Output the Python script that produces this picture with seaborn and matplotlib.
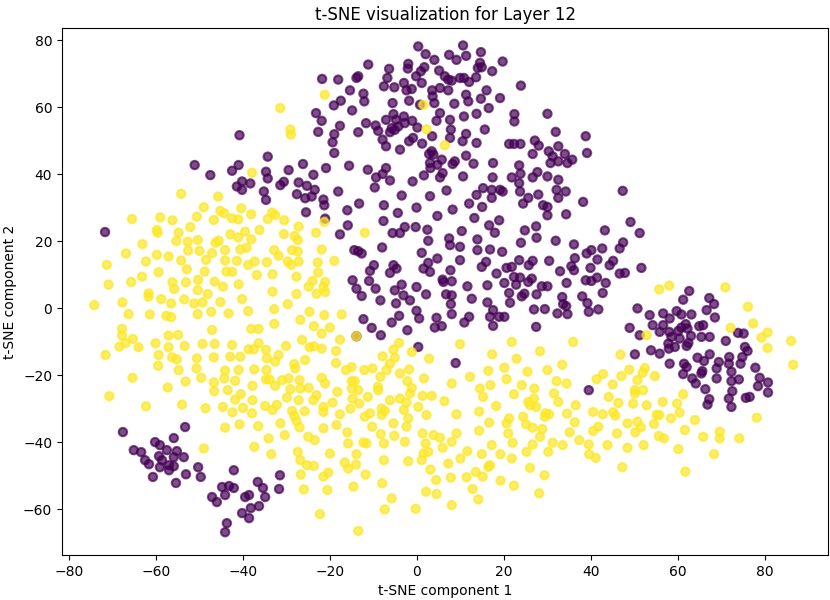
import matplotlib
matplotlib.use("Agg")
import matplotlib.pyplot as plt
import seaborn as sns
import pandas as pd

title = "t-SNE visualization for Layer 12"
xlabel = "t-SNE component 1"
ylabel = "t-SNE component 2"
xticks = [-80, -60, -40, -20, 0, 20, 40, 60, 80]
yticks = [-60, -40, -20, 0, 20, 40, 60, 80]
class_colors = {0: "#440154", 1: "#fde725"}

# ---- class 0 (purple) ----
purple_lower_left = [(-67.6,-37.0),(-53.3,-35.5),(-55.9,-38.8),(-60.2,-40.0),(-65.1,-42.4),(-63.4,-43.0),(-59.1,-40.9),(-57.5,-42.4),(-55.2,-42.7),(-53.6,-44.5),(-59.3,-44.2),(-62.5,-45.4),(-61.6,-46.6),(-58.6,-45.4),(-55.9,-44.5),(-59.1,-47.5),(-57.0,-46.9),(-55.9,-47.2),(-57.0,-48.4),(-60.7,-50.4),(-55.4,-52.2),(-53.1,-49.6),(-50.3,-47.5),(-49.7,-50.4)]
purple_bottom = [(-42.1,-48.4),(-31.5,-49.9),(-31.7,-54.0),(-36.6,-51.9),(-35.4,-53.7),(-44.8,-53.4),(-43.2,-53.1),(-42.1,-53.7),(-44.1,-55.8),(-47.1,-56.4),(-46.0,-57.9),(-39.5,-56.4),(-38.6,-55.8),(-34.9,-56.4),(-36.3,-59.1),(-38.2,-59.7),(-40.2,-61.2),(-38.6,-62.7),(-43.7,-64.2),(-44.1,-66.9)]
purple_upper_left = [(-71.7,22.7),(-51.1,42.7),(-47.5,39.7),(-42.5,41.0),(-41.0,42.7),(-41.4,36.3),(-40.2,37.8),(-40.2,35.3),(-38.3,37.2),(-35.2,34.8),(-34.7,32.3),(-34.3,45.2),(-34.7,40.7),(-34.3,38.7),(-29.5,41.2),(-26.2,43.0),(-30.6,37.7),(-31.4,36.7),(-27.2,37.5),(-25.3,36.5),(-27.6,34.0),(-25.7,32.8),(-25.5,28.6),(-40.8,51.6)]
purple_top = [(0.3,78.1),(10.6,78.4),(2.0,75.8),(7.4,75.6),(9.1,74.1),(11.3,75.3),(14.7,76.4),(4.0,74.1),(-11.2,72.7),(-2.0,72.9),(-2.1,71.5),(1.7,71.9),(0.9,70.7),(-6.4,71.4),(5.1,70.9),(14.5,73.2),(14.9,71.9),(14.0,71.7),(17.3,70.7),(19.7,73.6),(-21.8,68.4),(-18.1,68.2),(-13.9,68.7),(-13.5,69.2),(-6.8,68.7),(-0.2,69.2),(1.1,67.2),(6.4,69.2),(7.2,68.2),(8.0,67.9),(9.9,68.7),(10.8,68.7),(12.0,67.5),(13.6,68.9),(23.9,66.4),(-15.4,65.0),(-12.3,64.0),(-12.1,61.7),(-17.5,61.9),(-19.1,60.5),(-7.6,66.2),(-5.2,65.9),(-3.0,67.2),(-2.4,65.0),(-1.2,65.4),(3.5,65.0),(5.3,65.7),(7.2,65.0),(11.3,63.7),(11.8,61.7),(14.7,62.5),(16.0,65.0),(19.1,62.7),(-14.9,59.0),(-5.6,61.2),(-1.8,61.9),(0.7,60.7),(3.6,63.2),(4.0,61.2),(8.6,61.0),(16.5,59.7),(22.4,57.9),(22.4,55.7),(30.0,58.0),(-23.2,58.2),(-21.9,55.9),(-22.7,52.6),(-17.7,54.4),(-19.0,51.9),(-19.4,49.5),(-19.0,46.3),(-13.5,52.5),(-11.7,55.2),(-9.5,54.5),(-8.9,52.9),(-7.1,56.2),(-5.4,57.9),(-4.8,56.2),(-5.8,53.7),(-5.1,53.2),(-6.2,52.5),(-4.3,54.2),(-3.0,57.2),(-2.8,55.2),(-1.1,55.9),(0.1,53.9),(-7.9,50.3),(-7.1,48.3),(-3.9,47.3),(-1.8,49.8),(-0.9,50.8),(1.2,49.1),(3.5,51.3),(4.5,55.9),(5.3,58.2),(7.6,56.2),(7.8,53.3),(7.6,50.8),(10.8,57.2),(11.3,52.0),(13.7,58.0),(15.6,53.3),(10.5,49.8),(13.7,49.3),(3.4,46.8),(3.8,45.8),(2.8,46.0),(5.7,44.3),(11.3,45.5),(13.0,43.1),(17.5,43.3),(21.2,49.0),(22.3,49.0),(23.8,49.0),(27.1,50.0),(28.0,48.5),(26.6,46.0),(30.3,46.8),(31.9,52.6),(32.5,48.3),(31.2,45.3),(34.0,46.0),(32.5,43.8),(30.7,43.3),(34.6,43.3),(-15.6,42.5),(-20.9,41.8),(-11.3,41.3),(-7.1,41.8),(-7.9,40.0),(-9.4,39.0),(-6.2,38.1),(-9.7,36.0),(-1.0,37.8),(1.6,39.6),(3.0,43.3),(3.1,41.8),(4.7,42.8),(5.9,40.3),(5.3,39.0),(8.2,43.0),(8.7,43.8),(10.6,39.3),(17.4,39.0),(21.8,39.0),(23.5,42.6),(23.8,40.1),(23.5,37.3),(23.7,34.8),(26.6,39.0),(27.7,40.6),(30.0,39.3),(32.5,38.3),(32.1,35.3),(34.2,34.8),(19.1,35.3),(19.7,34.8),(17.2,35.3),(15.2,35.8),(13.7,33.8),(6.8,35.1),(-23.8,39.8),(-23.5,35.3),(-24.2,33.3),(-18.1,34.8),(-21.5,32.4),(-3.5,33.6),(3.0,33.4),(17.2,32.9),(25.6,32.9),(27.9,33.9),(32.5,32.9),(38.8,51.3),(39.1,46.3),(35.7,44.3),(47.3,35.0)]
purple_middle = [(-21.3,30.7),(-21.1,26.7),(-13.3,31.2),(-7.6,30.7),(-0.1,30.0),(8.2,29.4),(12.0,31.2),(15.0,30.2),(24.4,31.2),(29.0,30.7),(30.0,30.2),(30.0,27.7),(34.3,28.0),(-16.0,29.2),(-4.4,28.4),(-7.7,26.0),(4.7,27.5),(13.2,26.9),(18.9,26.2),(-15.9,24.7),(-17.7,22.0),(-5.6,22.4),(-3.9,22.4),(-2.8,24.2),(-0.3,24.2),(2.4,23.4),(2.6,20.1),(10.3,23.0),(16.6,24.7),(17.9,22.5),(24.8,23.2),(27.4,24.4),(27.5,21.0),(23.9,19.5),(31.9,20.1),(7.4,20.8),(7.6,18.8),(9.9,18.3),(13.9,20.5),(13.9,17.3),(16.8,17.5),(19.6,16.8),(-14.4,17.3),(-13.5,17.0),(-12.7,16.3),(-8.0,18.1),(1.1,16.5),(2.6,13.5),(4.7,14.8),(9.9,14.3),(-9.9,12.8),(-10.8,11.1),(-5.4,12.8),(-4.7,11.8),(-6.2,10.5),(1.5,11.8),(3.0,10.8),(7.7,11.3),(14.9,12.3),(15.9,13.8),(18.3,10.3),(20.6,12.0),(21.8,12.3),(23.5,14.3),(26.6,14.1),(25.7,12.8),(30.4,14.1),(32.9,11.0),(22.3,9.3),(23.7,9.1),(26.4,8.8),(25.6,7.8),(28.7,6.5),(30.0,6.5),(34.4,7.5),(-14.8,8.3),(-11.0,8.1),(-13.9,5.8),(-9.5,5.8),(-12.7,3.6),(-3.5,7.0),(-5.1,5.3),(-3.1,3.8),(-1.6,2.3),(-0.1,6.3),(2.1,4.1),(5.9,8.5),(6.1,7.8),(8.0,8.0),(6.7,4.1),(8.0,3.8),(11.6,6.5),(16.2,6.8),(20.1,7.5),(22.8,7.0),(21.2,4.5),(24.1,3.5),(24.7,4.3),(27.5,4.1),(33.4,3.3),(-8.4,2.3),(-4.8,1.4),(7.8,1.2),(12.6,2.8),(16.2,1.7),(21.4,1.6),(33.6,1.2),(34.3,0.6),(-0.1,-0.8),(8.0,-1.8),(17.5,-0.6),(26.9,-0.4),(29.4,-0.3),(32.3,-1.6),(-12.3,-3.3),(-4.1,-2.3),(-5.8,-4.3),(0.5,-3.1),(4.5,-2.9),(4.1,-5.8),(5.7,-5.4),(12.0,-2.6),(10.9,-4.3),(16.8,-2.6),(18.9,-2.6),(20.1,-2.6),(17.5,-5.3),(27.4,-5.6),(-10.4,-5.9),(-8.3,-8.1),(-2.2,-6.6),(-13.9,-8.4),(0.3,-11.6),(8.9,-16.4)]
purple_right = [(38.2,31.7),(49.1,25.7),(43.2,23.2),(51.2,22.4),(36.1,19.0),(47.4,19.6),(46.6,17.8),(40.1,17.3),(42.6,17.8),(39.0,16.3),(36.3,14.9),(41.5,14.5),(45.1,14.1),(44.3,12.8),(35.5,12.5),(36.1,11.3),(39.9,12.0),(46.6,10.3),(47.8,10.5),(51.6,12.0),(38.8,8.3),(40.1,8.1),(41.4,9.1),(43.4,7.5),(42.7,4.5),(38.0,3.5),(39.2,1.5),(41.7,-0.4),(39.5,-1.1),(34.6,-1.8)]
purple_far_right = [(62.6,5.1),(61.2,2.5),(67.2,3.0),(68.3,1.2),(50.7,-0.1),(59.7,-0.9),(56.6,-1.6),(60.8,-1.9),(63.1,-1.9),(66.6,-0.6),(53.5,-2.1),(58.1,-3.1),(68.5,-2.8),(54.2,-5.1),(56.6,-5.1),(60.8,-5.8),(61.8,-4.8),(62.2,-6.1),(64.9,-5.4),(65.8,-5.1),(48.9,-5.9),(55.8,-7.1),(58.0,-7.1),(60.1,-6.8),(63.0,-8.3),(65.4,-8.6),(67.3,-8.6),(51.2,-8.1),(58.5,-8.6),(60.4,-9.1),(71.0,-9.8),(73.8,-7.4),(75.1,-7.6),(57.8,-10.6),(59.3,-11.6),(62.0,-11.3),(62.4,-10.4),(53.8,-12.6),(55.8,-13.6),(50.1,-13.8),(57.9,-12.1),(64.5,-14.8),(67.3,-13.8),(71.8,-14.6),(75.4,-11.6),(76.0,-12.8),(74.8,-14.6),(58.1,-16.6),(61.4,-16.6),(62.0,-17.6),(66.0,-15.8),(69.4,-16.1),(71.7,-16.6),(72.3,-19.0),(68.9,-18.0),(65.6,-18.8),(65.4,-19.5),(74.4,-16.6),(77.8,-17.8),(61.2,-19.7),(39.5,-24.5),(63.3,-21.0),(64.1,-22.5),(68.9,-21.0),(66.3,-24.2),(67.2,-27.2),(66.8,-28.8),(71.7,-27.0),(72.3,-29.5),(72.5,-24.8),(72.3,-21.8),(74.0,-21.3),(75.6,-26.8),(76.5,-26.5),(78.8,-20.8),(78.4,-23.3),(80.7,-22.2),(80.7,-25.2)]

# ---- class 1 (yellow) ----
yellow_upper_left = [(-37.9,40.4),(-54.2,34.1),(-45.7,33.3),(-49.0,30.1),(-45.2,29.0),(-44.3,28.3),(-40.4,29.8),(-38.1,28.0),(-33.3,28.5),(-32.6,27.8),(-34.3,26.6),(-30.5,26.2),(-65.5,26.6),(-59.0,27.1),(-56.2,26.2),(-50.6,27.3),(-46.7,26.3),(-42.5,26.8),(-41.1,26.5),(-52.1,24.2),(-59.8,23.3),(-59.6,22.5),(-54.8,22.5),(-55.3,20.0),(-52.7,19.8),(-50.4,20.3),(-46.3,19.5),(-45.6,20.1),(-42.9,22.0),(-41.1,21.1),(-39.5,22.8),(-38.1,20.5),(-36.2,23.3),(-30.6,22.1),(-27.2,24.3),(-28.1,21.5),(-27.4,20.3),(-63.1,19.1),(-66.9,16.3),(-71.3,12.9),(-62.3,13.9),(-59.8,15.9),(-57.1,15.4),(-54.2,14.2),(-52.6,17.2),(-50.0,17.1),(-48.5,14.4),(-47.1,16.4),(-44.1,17.3),(-44.1,14.2),(-41.4,14.1),(-40.6,17.5),(-39.2,18.0),(-38.8,12.9),(-37.3,13.9),(-34.5,13.7),(-32.8,17.3),(-31.8,15.6),(-29.7,13.9),(-28.7,17.3),(-27.4,16.9),(-28.9,12.9),(-27.2,13.9),(-52.9,11.6),(-48.8,10.9),(-43.8,10.9),(-42.5,10.8),(-63.2,9.4),(-59.4,10.7),(-70.9,7.0),(-65.7,7.8),(-61.7,4.4),(-61.7,3.4),(-56.2,7.7),(-55.8,5.7),(-53.1,7.7),(-50.3,8.4),(-50.4,5.4),(-48.1,4.2),(-46.5,7.9),(-44.6,6.4),(-41.0,7.1),(-36.8,9.9),(-33.2,10.1),(-33.2,4.9),(-27.7,9.4),(-27.7,4.2),(-24.9,6.4),(-67.7,1.7),(-58.8,2.7),(-56.5,1.4),(-53.5,2.6),(-51.2,1.4),(-49.3,1.7),(-45.2,1.8),(-40.2,2.7),(-66.3,-1.8),(-61.4,-1.9),(-57.6,-2.3),(-56.5,-2.7),(-50.4,-1.8),(-47.3,-1.1),(-43.3,-1.6),(-38.8,-0.9),(-32.8,-0.3),(-29.7,1.2),(-24.7,-1.1),(-67.8,-6.2),(-67.8,-8.2),(-65.3,-9.2),(-57.1,-8.2),(-54.9,-8.0),(-47.1,-6.5),(-38.1,-6.2),(-36.4,-6.2),(-32.8,-4.7),(-26.8,-3.5),(-26.4,-9.5),(-74.2,0.9),(-31.4,59.7),(-29.1,53.3),(-29.0,51.8),(-21.2,63.7),(1.5,60.7),(2.2,53.4),(6.4,48.6)]
yellow_lower_left = [(-71.6,-14.0),(-68.4,-11.5),(-67.0,-10.4),(-64.0,-11.7),(-60.1,-10.5),(-57.1,-11.7),(-59.4,-14.0),(-56.3,-14.7),(-55.2,-15.3),(-53.4,-11.3),(-50.6,-15.0),(-49.3,-10.7),(-46.5,-10.7),(-46.7,-14.7),(-42.5,-11.0),(-42.9,-14.5),(-40.6,-14.5),(-38.7,-12.3),(-37.5,-12.3),(-36.4,-10.5),(-34.7,-12.5),(-34.5,-15.0),(-32.6,-16.0),(-31.8,-14.0),(-30.1,-11.3),(-24.7,-11.7),(-25.7,-15.5),(-59.5,-17.2),(-54.8,-18.5),(-50.7,-18.0),(-49.6,-20.8),(-44.1,-18.7),(-44.3,-21.0),(-41.0,-18.5),(-37.4,-18.3),(-34.6,-18.5),(-34.7,-21.3),(-33.9,-21.3),(-31.0,-21.5),(-29.5,-21.0),(-28.2,-16.7),(-28.0,-18.0),(-27.0,-21.5),(-24.9,-23.8),(-65.4,-20.8),(-57.3,-23.7),(-53.2,-21.9),(-46.7,-22.2),(-46.6,-24.8),(-43.5,-24.5),(-41.8,-21.7),(-41.8,-27.3),(-40.5,-25.7),(-37.8,-23.2),(-32.6,-23.2),(-29.1,-24.2),(-26.8,-24.0),(-70.7,-26.3),(-62.3,-29.3),(-54.0,-28.8),(-48.6,-29.9),(-44.6,-29.5),(-42.4,-31.1),(-40.0,-29.8),(-37.8,-27.5),(-37.9,-31.4),(-34.9,-29.2),(-33.2,-30.4),(-32.2,-28.9),(-29.9,-26.7),(-27.2,-27.5),(-28.7,-30.7),(-28.2,-32.2),(-27.7,-33.7),(-27.0,-35.6),(-25.8,-30.8),(-44.1,-35.7),(-40.8,-34.7),(-36.5,-35.2),(-31.4,-34.4),(-30.4,-37.9),(-34.1,-38.9),(-37.4,-41.4),(-33.5,-43.6),(-49.0,-41.9),(-27.4,-42.9),(-25.0,-38.4),(-26.8,-45.4),(-25.3,-46.9),(-26.7,-49.7),(-26.0,-54.1)]
yellow_center = [(-21.3,25.7),(-23.2,22.5),(-12.0,22.5),(-21.9,17.5),(-19.0,14.1),(-22.8,13.6),(-22.7,10.6),(-24.0,8.1),(-21.1,7.8),(-21.5,6.3),(-23.1,4.3),(-21.1,4.8),(-21.3,-2.1),(-17.3,-1.9),(-23.7,-5.4),(-20.0,-5.8),(-21.9,-7.6),(-17.7,-9.4),(-23.7,-11.4),(-21.9,-12.1),(-18.6,-12.8),(-18.6,-16.4),(-16.3,-18.5),(-15.0,-17.6),(-12.1,-18.5),(-10.2,-18.0),(-7.9,-14.4),(-6.2,-16.6),(-5.1,-14.8),(-5.4,-12.4),(-4.1,-10.4),(-1.2,-13.1),(2.8,-15.1),(-1.8,-18.3),(-3.9,-19.5),(-7.0,-18.5),(9.9,-10.8),(17.3,-13.8),(21.8,-10.1),(22.9,-15.1),(28.3,-12.9),(20.1,-17.8),(16.4,-18.7),(25.4,-19.0),(30.0,-18.5),(33.4,-16.9),(-13.9,-8.4)]
yellow_bottom = [(-21.9,-20.8),(-21.1,-22.5),(-23.1,-26.0),(-23.8,-27.5),(-21.5,-29.5),(-21.5,-31.0),(-23.5,-39.4),(-23.7,-47.1),(-21.5,-50.3),(-20.4,-49.1),(-20.6,-54.3),(-22.3,-61.5),(-18.3,-25.0),(-19.4,-28.2),(-17.7,-31.7),(-18.5,-34.9),(-21.5,-35.9),(-16.0,-37.1),(-15.8,-40.4),(-20.0,-43.4),(-16.6,-46.1),(-15.8,-47.9),(-13.9,-43.6),(-14.0,-46.7),(-11.8,-49.7),(-14.6,-53.3),(-13.5,-66.5),(-15.0,-21.8),(-14.3,-21.8),(-15.0,-24.0),(-13.5,-24.5),(-14.8,-27.0),(-13.3,-28.5),(-15.3,-30.0),(-11.3,-26.5),(-9.0,-23.5),(-8.9,-24.5),(-8.4,-20.5),(-6.2,-27.5),(-3.9,-27.0),(-2.4,-28.2),(-3.0,-30.4),(-8.1,-30.0),(-7.4,-30.7),(-8.1,-31.9),(-12.0,-32.4),(-10.8,-31.4),(-10.3,-35.4),(-5.4,-34.4),(-2.0,-32.9),(-2.4,-35.4),(-8.3,-37.6),(-7.6,-40.4),(-5.2,-38.1),(-2.8,-39.9),(-12.3,-40.1),(-11.6,-40.4),(-7.6,-45.4),(-2.0,-45.7),(-8.0,-52.3),(-5.8,-56.8),(-7.4,-60.1),(-0.3,-59.9),(-2.2,-21.8),(-1.2,-23.8),(-1.6,-25.5),(1.6,-21.0),(1.3,-26.2),(3.4,-26.2),(0.3,-29.5),(2.2,-31.9),(1.3,-37.4),(3.8,-37.9),(5.3,-38.7),(2.0,-40.4),(1.5,-43.4),(2.6,-42.9),(1.1,-45.4),(3.1,-48.2),(4.4,-51.3),(2.1,-54.8),(4.5,-55.5),(8.0,-58.8),(6.3,-27.8),(8.0,-22.5),(9.1,-31.7),(9.1,-37.4),(8.0,-39.9),(5.9,-41.7),(7.2,-46.4),(7.8,-50.6),(10.0,-44.9),(11.6,-42.7),(11.4,-50.5),(12.8,-54.0),(13.5,-48.9),(15.1,-50.3),(14.1,-57.1),(12.2,-20.5),(14.5,-24.0),(15.2,-26.5),(16.9,-23.0),(14.3,-30.9),(18.2,-29.2),(16.6,-34.2),(14.3,-36.6),(17.2,-40.9),(14.9,-43.6),(16.8,-46.9),(16.4,-47.4),(19.2,-43.6),(21.8,-44.9),(19.2,-51.5),(22.3,-53.0),(20.6,-21.2),(22.3,-25.7),(24.1,-23.0),(27.0,-24.0),(25.6,-28.0),(26.0,-29.0),(27.4,-29.5),(26.9,-27.0),(31.5,-25.5),(32.5,-28.0),(32.1,-21.8),(21.2,-32.9),(20.6,-34.4),(24.4,-32.4),(25.1,-34.7),(26.6,-35.7),(28.8,-36.1),(28.3,-38.4),(29.6,-31.4),(29.4,-32.4),(30.4,-31.7),(21.0,-37.4),(22.0,-40.2),(26.6,-40.7),(25.2,-42.9),(30.2,-42.9),(31.2,-40.2),(33.5,-40.9),(26.0,-47.7),(29.3,-49.9),(28.1,-55.3)]
yellow_right = [(55.7,5.6),(58.0,6.7),(70.9,6.2),(76.1,0.4),(77.3,-4.6),(72.1,-5.9),(52.8,-8.1),(79.2,-8.8),(80.6,-7.3),(80.6,-11.9),(86.0,-9.8),(86.5,-16.9),(35.9,-10.1),(46.8,-13.9),(48.8,-18.4),(52.4,-17.9),(51.9,-19.3),(42.8,-19.7),(34.4,-22.5),(41.3,-21.2),(47.0,-20.3),(45.0,-22.8),(50.7,-21.5),(54.7,-20.3),(52.0,-24.5),(50.1,-24.5),(50.1,-25.5),(44.1,-26.5),(46.3,-28.3),(49.7,-28.5),(52.8,-29.0),(56.5,-28.0),(59.8,-28.5),(61.2,-25.7),(36.5,-29.0),(34.5,-31.5),(40.5,-31.0),(42.7,-31.7),(45.1,-31.1),(45.6,-32.1),(55.1,-31.9),(55.7,-31.9),(58.4,-32.9),(60.4,-31.2),(63.9,-33.4),(78.1,-32.7),(36.3,-34.1),(41.7,-35.4),(40.5,-36.7),(48.4,-34.4),(50.7,-33.9),(51.5,-35.6),(50.2,-37.1),(54.5,-34.6),(46.0,-37.4),(35.1,-37.1),(37.3,-39.4),(39.5,-40.7),(43.8,-40.9),(48.4,-41.7),(52.1,-40.9),(55.6,-38.2),(56.8,-38.9),(61.6,-36.4),(65.8,-38.4),(69.6,-36.9),(69.6,-38.9),(74.1,-38.9),(60.1,-42.1),(68.3,-43.6),(39.6,-43.6),(41.1,-44.7),(47.2,-47.5),(61.7,-48.8)]

purple_groups = [purple_lower_left, purple_bottom, purple_upper_left, purple_top,
                 purple_middle, purple_right, purple_far_right]
yellow_groups = [yellow_upper_left, yellow_lower_left, yellow_center, yellow_bottom, yellow_right]

rows = []
for grp in purple_groups:
    rows += [(x, y, 0) for x, y in grp]
for grp in yellow_groups:
    rows += [(x, y, 1) for x, y in grp]
df = pd.DataFrame(rows, columns=["x", "y", "label"])

fig = plt.figure(figsize=(8.3, 6.0), dpi=100)
ax = fig.add_axes([0.0747, 0.075, 0.9229, 0.8783])
sns.scatterplot(data=df, x="x", y="y", hue="label", palette=class_colors,
                s=36, alpha=0.7, edgecolor="face", linewidth=1.5,
                legend=False, ax=ax)
ax.set_xlim(-81.6, 94.5)
ax.set_ylim(-73.7, 83.6)
ax.set_xticks(xticks)
ax.set_yticks(yticks)
ax.set_title(title, fontsize=12)
ax.set_xlabel(xlabel, fontsize=10)
ax.set_ylabel(ylabel, fontsize=10)
fig.savefig("out.png", dpi=100)
